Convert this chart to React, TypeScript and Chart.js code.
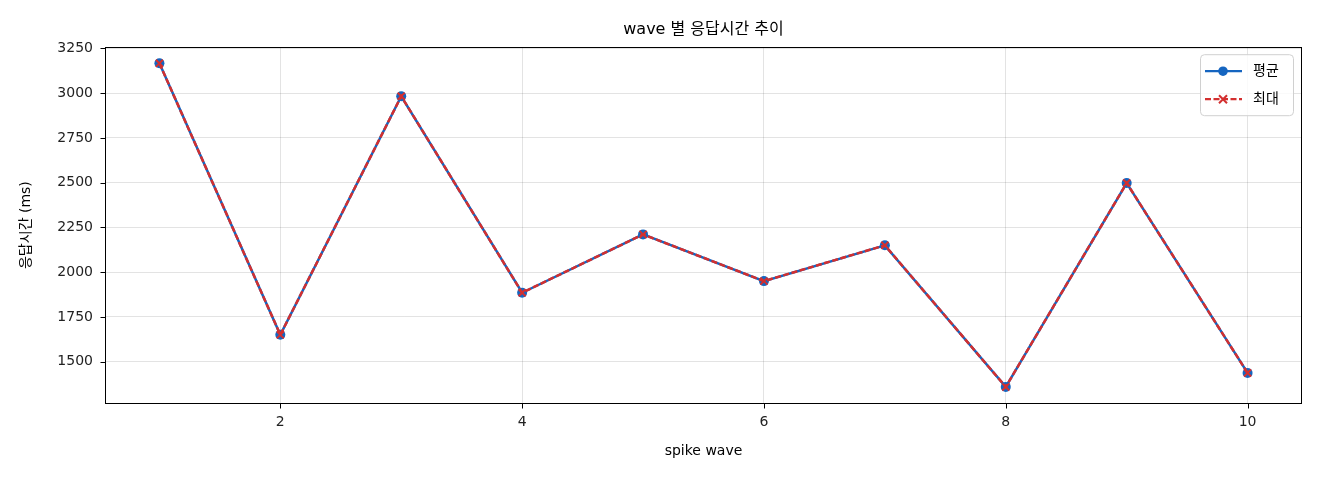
import { useEffect, useRef } from 'react'
import { Chart, registerables } from 'chart.js'

Chart.register(...registerables)

const waves = [1, 2, 3, 4, 5, 6, 7, 8, 9, 10]
const avgMs = [3167, 1650, 2983, 1885, 2211, 1950, 2150, 1359, 2498, 1437]
const maxMs = [3167, 1650, 2983, 1885, 2211, 1950, 2150, 1359, 2498, 1437]
const xTicks = [2, 4, 6, 8, 10]
const yTicks = [1500, 1750, 2000, 2250, 2500, 2750, 3000, 3250]

const FONT = "'DejaVu Sans', 'Noto Sans CJK KR', sans-serif"
const BLUE = '#1565c0'
const RED = '#d32f2f'

// black frame and outward tick marks, like matplotlib spines
const framePlugin = {
    id: 'frame',
    afterDatasetsDraw(chart: Chart) {
        const { ctx, chartArea: a } = chart
        const xs: any = chart.scales.x
        const ys: any = chart.scales.y
        const L = Math.round(a.left) + 0.5
        const T = Math.round(a.top) + 0.5
        const R = Math.round(a.right) - 0.5
        const B = Math.round(a.bottom) + 0.5
        ctx.save()
        ctx.strokeStyle = '#000'
        ctx.lineWidth = 1
        ctx.strokeRect(L, T, R - L, B - T)
        ctx.beginPath()
        xTicks.forEach(v => {
            const px = Math.round(xs.getPixelForValue(v)) + 0.5
            ctx.moveTo(px, B)
            ctx.lineTo(px, B + 5)
        })
        yTicks.forEach(v => {
            const py = Math.round(ys.getPixelForValue(v)) + 0.5
            ctx.moveTo(L, py)
            ctx.lineTo(L - 5, py)
        })
        ctx.stroke()
        ctx.restore()
    },
}

// legend with line + marker samples inside the plot
const legendPlugin = {
    id: 'mplLegend',
    afterDraw(chart: Chart) {
        const { ctx, chartArea: a } = chart
        const w = 93
        const h = 61
        const bx = a.right - 9 - w
        const by = a.top + 7
        ctx.save()
        ctx.beginPath()
        ctx.roundRect(bx + 0.5, by + 0.5, w, h, 4)
        ctx.fillStyle = 'rgba(255,255,255,0.8)'
        ctx.fill()
        ctx.strokeStyle = '#d0d0d0'
        ctx.lineWidth = 1
        ctx.stroke()

        chart.data.datasets.forEach((ds: any, i: number) => {
            const y = by + 17 + i * 28
            const color = ds.borderColor as string
            ctx.strokeStyle = color
            ctx.lineWidth = 2.2
            ctx.setLineDash(ds.borderDash || [])
            ctx.beginPath()
            ctx.moveTo(bx + 5, y)
            ctx.lineTo(bx + 42, y)
            ctx.stroke()
            ctx.setLineDash([])
            const mx = bx + 23
            if (ds.pointStyle === 'circle') {
                ctx.fillStyle = color
                ctx.beginPath()
                ctx.arc(mx, y, 4.8, 0, Math.PI * 2)
                ctx.fill()
            } else {
                ctx.lineWidth = 2
                ctx.beginPath()
                ctx.moveTo(mx - 4, y - 4)
                ctx.lineTo(mx + 4, y + 4)
                ctx.moveTo(mx - 4, y + 4)
                ctx.lineTo(mx + 4, y - 4)
                ctx.stroke()
            }
            ctx.fillStyle = '#000'
            ctx.font = `14px ${FONT}`
            ctx.textBaseline = 'middle'
            ctx.fillText(ds.label, bx + 53, y)
        })
        ctx.restore()
    },
}

export default function App() {
    const canvasRef = useRef<HTMLCanvasElement | null>(null)

    useEffect(() => {
        if (!canvasRef.current) return
        const chart = new Chart(canvasRef.current, {
            type: 'line',
            data: {
                datasets: [
                    {
                        label: '평균',
                        data: waves.map((w, i) => ({ x: w, y: avgMs[i] })),
                        borderColor: BLUE,
                        backgroundColor: BLUE,
                        borderWidth: 2.5,
                        pointStyle: 'circle',
                        pointRadius: 5,
                        pointBackgroundColor: BLUE,
                        pointBorderColor: BLUE,
                        pointBorderWidth: 0,
                        order: 1,
                    },
                    {
                        label: '최대',
                        data: waves.map((w, i) => ({ x: w, y: maxMs[i] })),
                        borderColor: RED,
                        backgroundColor: RED,
                        borderWidth: 2.5,
                        borderDash: [6, 2.5],
                        pointStyle: 'crossRot',
                        pointRadius: 5,
                        pointBorderColor: RED,
                        pointBorderWidth: 2,
                        order: 0,
                    },
                ],
            },
            options: {
                animation: false,
                responsive: true,
                maintainAspectRatio: false,
                layout: { padding: { left: 0, right: 18, top: 0, bottom: 0 } },
                plugins: {
                    legend: { display: false },
                    tooltip: { enabled: false },
                    title: {
                        display: true,
                        text: 'wave 별 응답시간 추이',
                        color: '#000',
                        fullSize: false,
                        font: { family: FONT, size: 16, weight: 'normal' },
                        padding: { top: 20, bottom: 8 },
                    },
                },
                scales: {
                    x: {
                        type: 'linear',
                        min: 0.55,
                        max: 10.45,
                        afterBuildTicks: (s: any) => { s.ticks = xTicks.map(v => ({ value: v })) },
                        afterFit: (s: any) => { s.height = 77 },
                        border: { display: false },
                        grid: { color: 'rgba(0,0,0,0.11)', drawTicks: false },
                        ticks: { color: '#222', padding: 11, font: { family: FONT, size: 14 }, maxRotation: 0, callback: (v: any) => String(v) },
                        title: {
                            display: true,
                            text: 'spike wave',
                            color: '#000',
                            font: { family: FONT, size: 14 },
                            padding: { top: 0, bottom: 20.6 },
                        },
                    },
                    y: {
                        min: 1269,
                        max: 3257,
                        afterBuildTicks: (s: any) => { s.ticks = yTicks.map(v => ({ value: v })) },
                        afterFit: (s: any) => { s.width = 105 },
                        border: { display: false },
                        grid: { color: 'rgba(0,0,0,0.11)', drawTicks: false },
                        ticks: { color: '#222', padding: 12, font: { family: FONT, size: 14 }, callback: (v: any) => String(v) },
                        title: {
                            display: true,
                            text: '응답시간 (ms)',
                            color: '#000',
                            font: { family: FONT, size: 14 },
                            padding: { top: 18, bottom: 0 },
                        },
                    },
                },
            },
            plugins: [framePlugin, legendPlugin],
        })
        return () => chart.destroy()
    }, [])

    return (
        <div style={{ position: 'fixed', left: 0, top: 0, width: 1320, height: 480, background: '#fff' }}>
            <canvas ref={canvasRef} />
        </div>
    )
}
